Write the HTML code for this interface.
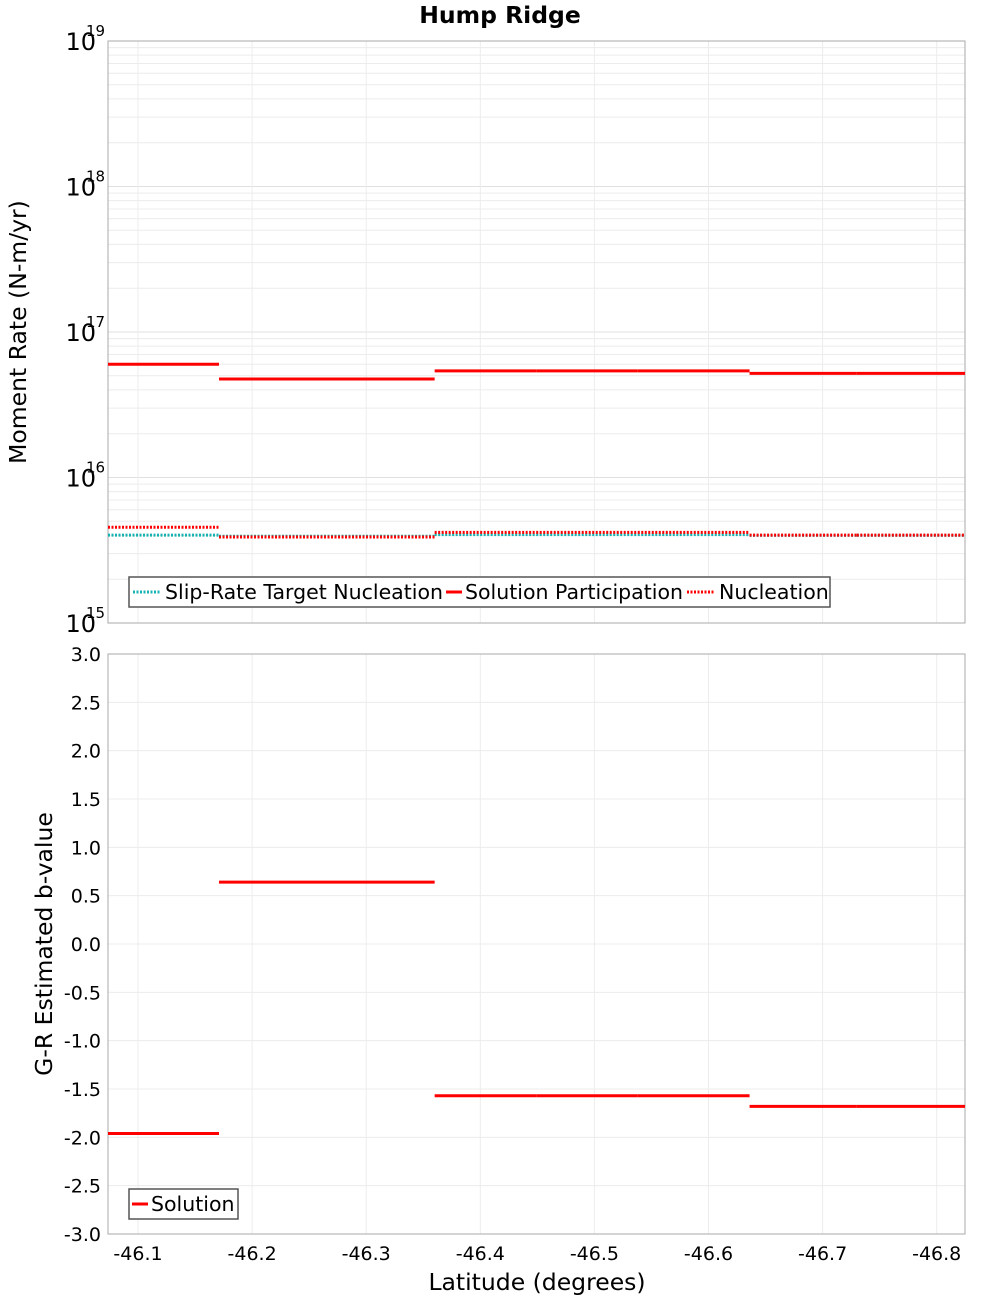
<!DOCTYPE html>
<html><head><meta charset="utf-8"><style>
body{margin:0;background:#fff;width:1000px;height:1300px;overflow:hidden;font-family:"DejaVu Sans","Liberation Sans",sans-serif}
</style></head><body>
<svg id="chart" width="1000" height="1300" xmlns="http://www.w3.org/2000/svg" font-family="DejaVu Sans, Liberation Sans, sans-serif"></svg>
<script>
const sectionEdges = [-46.0737, -46.171, -46.360, -46.449, -46.538, -46.636, -46.730, -46.8248];
const participation = [6.0e16, 4.75e16, 5.4e16, 5.4e16, 5.4e16, 5.2e16, 5.2e16];
const nucleation = [4.55e15, 3.9e15, 4.2e15, 4.2e15, 4.2e15, 4.02e15, 4.02e15];
const slipTarget = [4.02e15, 3.95e15, 4.05e15, 4.05e15, 4.05e15, 4.0e15, 4.0e15];
const bValues = [-1.96, 0.64, -1.57, -1.57, -1.57, -1.68, -1.68];
const xTicks = [-46.1, -46.2, -46.3, -46.4, -46.5, -46.6, -46.7, -46.8];
const decadeExps = [15, 16, 17, 18, 19];
const bTicks = [3.0, 2.5, 2.0, 1.5, 1.0, 0.5, 0.0, -0.5, -1.0, -1.5, -2.0, -2.5, -3.0];

const svg = document.getElementById('chart');
const NS = 'http://www.w3.org/2000/svg';
function mk(tag, attrs, parent) {
  const e = document.createElementNS(NS, tag);
  for (const k in attrs) e.setAttribute(k, attrs[k]);
  (parent || svg).appendChild(e);
  return e;
}
const L = 108, R = 965;
const T1 = 41, B1 = 623, T2 = 654, B2 = 1234;
const xMin = -46.0737, xMax = -46.8248;
function xs(v) { return L + (v - xMin) / (xMax - xMin) * (R - L); }
function ylog(v) { return B1 - (Math.log10(v) - 15) / 4 * (B1 - T1); }
function yb(v) { return B2 - (v + 3) / 6 * (B2 - T2); }

let t = mk('text', {x: 500, y: 23, 'text-anchor': 'middle', 'font-size': 23.5, 'font-weight': 'bold'});
t.textContent = 'Hump Ridge';



for (let e = 15; e < 19; e++) {
  for (let m = 2; m <= 9; m++) {
    const y = ylog(m * Math.pow(10, e));
    const gl = mk('line', {x1: L, x2: R, y1: y, y2: y, stroke: '#ececec', 'stroke-width': 1});
    
    
  }
}
decadeExps.forEach(e => {
  const y = ylog(Math.pow(10, e));
  const gl = mk('line', {x1: L, x2: R, y1: y, y2: y, stroke: '#e0e0e0'});
  
  
  const tx = mk('text', {x: 96, y: y + 9, 'text-anchor': 'end', 'font-size': 24});
  
  
  tx.textContent = '10';
  const sup = mk('text', {x: 86, y: y - 5, 'font-size': 15});
  
  
  sup.textContent = String(e);
});
bTicks.forEach(v => {
  const y = yb(v);
  const gl = mk('line', {x1: L, x2: R, y1: y, y2: y, stroke: '#ececec'});
  
  
  const tx = mk('text', {x: 101, y: y + 7, 'text-anchor': 'end', 'font-size': 19});
  
  
  tx.textContent = v.toFixed(1);
});
xTicks.forEach(v => {
  const x = xs(v);
  [[T1, B1], [T2, B2]].forEach(([a, b]) => {
    const gl = mk('line', {x1: x, x2: x, y1: a, y2: b, stroke: '#ececec'});
    
    
  });
  const tx = mk('text', {x: x, y: 1260, 'text-anchor': 'middle', 'font-size': 19});
  
  
  tx.textContent = v.toFixed(1);
});
[[T1, B1], [T2, B2]].forEach(([a, b]) => {
  const r = mk('rect', {x: L, y: a, width: R - L, height: b - a, fill: 'none', stroke: '#aaa'});
  
  
});

function steps(vals, yf, color, dash, name, w) {
  for (let i = 0; i < vals.length; i++) {
    const x1 = xs(sectionEdges[i]), x2 = xs(sectionEdges[i + 1]);
    const y = yf(vals[i]);
    const a = {x1: x1, x2: x2, y1: y, y2: y, stroke: color, 'stroke-width': w};
    if (dash) a['stroke-dasharray'] = dash;
    const ln = mk('line', a);
    
    
  }
}
steps(slipTarget, ylog, '#17b3b3', '2,1.5', 'slip-rate-target-segment', 3);
steps(nucleation, ylog, '#ff0000', '2,1.5', 'nucleation-segment', 3);
steps(participation, ylog, '#ff0000', null, 'participation-segment', 3);
steps(bValues, yb, '#ff0000', null, 'b-value-segment', 3);

function legend(x, y, w, items, name) {
  const g = mk('g', {});
  
  
  mk('rect', {x: x, y: y, width: w, height: 30, fill: '#fff', stroke: '#555', 'stroke-width': 1.5}, g);
  items.forEach(it => {
    const a = {x1: it[0], x2: it[0] + it[4], y1: y + 15, y2: y + 15, stroke: it[1], 'stroke-width': 3};
    if (it[2]) a['stroke-dasharray'] = '2,1.5';
    mk('line', a, g);
    const tx = mk('text', {x: it[5], y: y + 22, 'font-size': 20.5}, g);
    
    
    tx.textContent = it[3];
  });
}
legend(129, 577, 701, [[133, '#17b3b3', true, 'Slip-Rate Target Nucleation', 28, 165], [446, '#ff0000', false, 'Solution Participation', 16, 465], [687, '#ff0000', true, 'Nucleation', 28, 719]], 'top-legend');
legend(129, 1189, 109, [[132, '#ff0000', false, 'Solution', 16, 151]], 'bottom-legend');

let a1 = mk('text', {x: 0, y: 0, 'text-anchor': 'middle', 'font-size': 23.5, transform: 'translate(26,332) rotate(-90)'});


a1.textContent = 'Moment Rate (N-m/yr)';
let a2 = mk('text', {x: 0, y: 0, 'text-anchor': 'middle', 'font-size': 23.5, transform: 'translate(52,944) rotate(-90)'});


a2.textContent = 'G-R Estimated b-value';
let a3 = mk('text', {x: 537, y: 1290, 'text-anchor': 'middle', 'font-size': 23.5});


a3.textContent = 'Latitude (degrees)';
</script>
</body></html>
